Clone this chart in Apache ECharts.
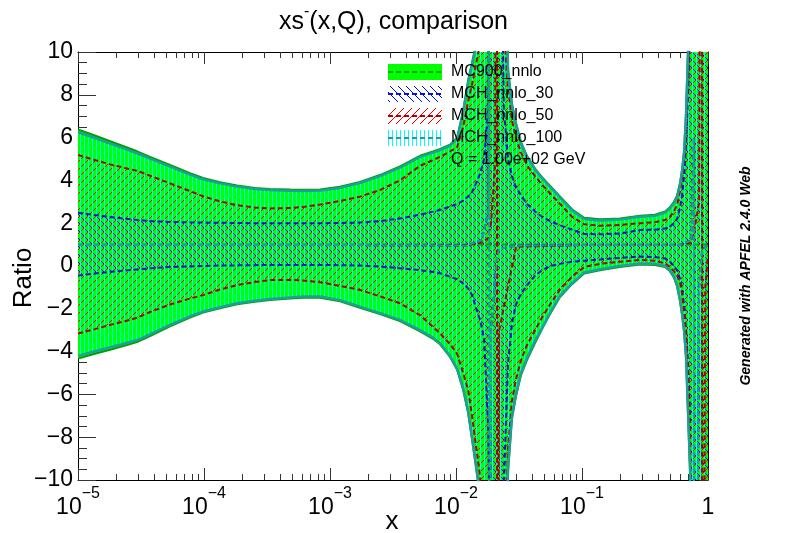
<!DOCTYPE html>
<html><head><meta charset="utf-8">
<script src="https://cdn.jsdelivr.net/npm/echarts@6/dist/echarts.min.js"></script>
<style>html,body{margin:0;padding:0;background:#fff}#c{width:787px;height:533px}</style>
</head><body><div id="c"></div>
<script>
// ---------------- data ----------------
const xGrid = [1.00e-5,1.36e-5,1.80e-5,2.36e-5,2.94e-5,3.73e-5,5.37e-5,7.74e-5,9.82e-5,1.34e-4,
  1.83e-4,2.54e-4,3.34e-4,4.82e-4,6.11e-4,8.34e-4,1.20e-3,1.73e-3,2.49e-3,3.59e-3,
  5.18e-3,6.57e-3,7.47e-3,8.96e-3,1.02e-2,1.14e-2,1.25e-2,1.34e-2,1.44e-2,1.55e-2,
  1.67e-2,1.80e-2,1.93e-2,2.08e-2,2.23e-2,2.40e-2,2.59e-2,2.78e-2,2.99e-2,3.28e-2,
  3.66e-2,4.24e-2,4.82e-2,5.57e-2,6.69e-2,8.34e-2,0.104,0.139,0.200,0.289,
  0.379,0.456,0.499,0.537,0.568,0.600,0.622,0.646,0.669,0.694,
  0.720,0.746,0.865,1.00];

// MC900_nnlo band
const mcHi = [6.38,6.10,5.83,5.57,5.36,5.10,4.72,4.34,4.11,3.91,3.76,3.65,3.60,3.57,3.56,3.58,3.70,3.93,4.25,4.65,
  5.15,5.35,5.47,5.67,6.00,7.25,8.70,9.50,10.4,14,20,20,20,20,20,20,9.2,7.6,6.7,5.8,
  5.15,4.55,4.15,3.75,3.25,2.65,2.25,2.18,2.22,2.35,2.40,2.55,2.75,3.00,3.30,3.90,4.50,5.40,7.20,10.2,
  14,20,20,20];
const mcLo = [-4.33,-4.10,-3.91,-3.72,-3.55,-3.28,-2.82,-2.41,-2.18,-1.98,-1.79,-1.67,-1.59,-1.52,-1.48,-1.48,-1.65,-1.95,-2.25,-2.57,
  -3.05,-3.40,-3.66,-4.25,-4.85,-5.80,-6.90,-8.10,-9.40,-10.8,-20,-20,-20,-20,-20,-20,-9.6,-7.15,-6.10,-5.10,
  -4.40,-3.60,-2.95,-2.25,-1.45,-0.85,-0.35,-0.20,-0.05,0.07,0.05,-0.05,-0.25,-0.55,-0.95,-1.65,-2.30,-3.10,-4.30,-6.90,
  -9.6,-20,-20,-20];
// MCH_nnlo_30 band
const c30Hi = [2.49,2.38,2.29,2.21,2.15,2.10,2.06,2.04,2.03,2.02,2.01,2.00,2.00,2.00,2.00,2.00,2.01,2.03,2.10,2.22,
  2.40,2.54,2.62,2.78,2.90,3.05,3.25,3.45,3.85,4.30,5.0,7.3,20,20,20,7.3,5.0,4.2,3.7,3.3,
  2.9,2.55,2.30,2.10,1.90,1.70,1.50,1.48,1.52,1.68,1.70,1.75,1.85,2.00,2.20,2.70,3.30,4.20,5.60,7.90,
  11,20,20,20];
const c30Lo = [-0.45,-0.35,-0.27,-0.21,-0.16,-0.11,-0.05,-0.02,0.00,0.02,0.03,0.04,0.05,0.05,0.05,0.05,0.04,0.02,-0.03,-0.10,
  -0.20,-0.28,-0.34,-0.50,-0.62,-0.82,-1.05,-1.35,-1.95,-2.5,-3.4,-7.5,-20,-20,-20,-10,-4.5,-2.7,-1.8,-1.3,
  -0.9,-0.45,-0.20,0.00,0.10,0.20,0.25,0.30,0.38,0.44,0.42,0.35,0.20,0.00,-0.20,-0.60,-1.10,-1.80,-3.00,-4.50,
  -7.0,-20,-20,-20];
// MCH_nnlo_50 band
const c50Hi = [5.19,4.95,4.75,4.58,4.45,4.22,3.86,3.50,3.26,3.02,2.84,2.73,2.69,2.71,2.76,2.87,3.04,3.24,3.55,4.00,
  4.68,4.95,5.10,5.35,5.55,6.50,7.70,8.50,9.40,10.4,16,20,20,20,20,11,8.3,6.8,6.0,5.3,
  4.7,4.2,3.8,3.4,2.9,2.3,1.95,1.88,1.92,2.00,2.05,2.15,2.30,2.55,2.85,3.50,4.10,5.00,6.50,8.80,
  12,20,20,20];
const c50Lo = [-3.15,-2.95,-2.75,-2.58,-2.42,-2.15,-1.80,-1.52,-1.36,-1.10,-0.89,-0.75,-0.66,-0.65,-0.68,-0.76,-0.93,-1.12,-1.42,-1.74,
  -2.30,-2.84,-3.15,-3.65,-4.10,-5.00,-5.80,-7.00,-8.40,-9.8,-14,-20,-20,-20,-20,-15,-8.5,-6.3,-5.3,-4.4,
  -3.7,-3.0,-2.4,-1.8,-1.1,-0.5,-0.05,0.10,0.20,0.28,0.25,0.12,-0.05,-0.25,-0.45,-0.75,-1.30,-2.20,-3.20,-5.00,
  -8.0,-20,-20,-20];
// MCH_nnlo_100 band
const c100Hi = [6.25,5.98,5.72,5.47,5.27,5.02,4.64,4.27,4.05,3.86,3.71,3.60,3.55,3.52,3.51,3.53,3.65,3.88,4.20,4.60,
  5.10,5.30,5.42,5.62,5.95,7.20,8.60,9.40,10.2,14,20,20,20,20,20,20,9.0,7.5,6.6,5.7,
  5.1,4.5,4.1,3.7,3.2,2.6,2.20,2.13,2.17,2.30,2.35,2.50,2.70,2.95,3.20,3.80,4.40,5.30,7.00,9.90,
  14,20,20,20];
const c100Lo = [-4.20,-3.98,-3.80,-3.62,-3.46,-3.20,-2.75,-2.35,-2.13,-1.93,-1.74,-1.62,-1.54,-1.47,-1.43,-1.43,-1.60,-1.90,-2.20,-2.52,
  -3.00,-3.35,-3.61,-4.20,-4.80,-5.70,-6.80,-8.00,-9.30,-10.6,-20,-20,-20,-20,-20,-20,-9.4,-7.0,-6.0,-5.0,
  -4.3,-3.5,-2.9,-2.2,-1.4,-0.8,-0.30,-0.15,0.00,0.12,0.10,0.00,-0.20,-0.50,-0.90,-1.60,-2.20,-3.00,-4.20,-6.80,
  -9.4,-20,-20,-20];

// central values (ratio to MC900 central), own x grid around the poles
const midX = [1e-5,1e-4,1e-3,5e-3,1.2e-2,1.6e-2,1.8e-2,1.826e-2,1.830e-2,1.9e-2,2.05e-2,2.113e-2,2.117e-2,2.2e-2,3e-2,
  0.1,0.3,0.6,0.74,0.772,0.776,0.85,0.894,0.898,0.95,1];
const mcMid  = [1,1,1,1,1,1,1,1,1,1,1,1,1,1,1,1,1,1,1,1,1,1,1,1,1,1];
const c30Mid = [0.98,0.98,0.98,0.97,0.95,1.2,2.5,40,-40,-3,-0.5,0.3,0.4,0.8,0.95,0.98,0.98,0.98,1.2,6,-40,-1,0.6,0.7,0.9,0.95];
const c50Mid = [0.98,0.98,0.98,0.97,0.96,1.1,1.3,1.5,1.6,2,5,40,-40,-3,0.9,0.98,0.98,0.98,1.1,1.5,1.6,3,40,-40,-1,0.5];
const c100Mid= [0.98,0.98,0.98,0.97,0.95,1.2,2.5,40,-40,-3,-0.5,0.3,0.4,0.8,0.95,0.98,0.98,0.98,1.2,6,-40,-1,0.6,0.7,0.9,0.95];

const seriesNames = ['MC900_nnlo','MCH_nnlo_30','MCH_nnlo_50','MCH_nnlo_100'];
const noteText = 'Q = 1.00e+02 GeV';
const majorX = [1e-5,1e-4,1e-3,1e-2,1e-1,1];
const minorMult = [2,3,4,5,6,7,8,9];
const yTicks = {min:-10, max:10, step:2};

// ---------------- styling ----------------
const FONT = '"Liberation Sans", Arial, Helvetica, sans-serif';
const GREEN = '#00ff00', GREEN_D = '#00a000';
const BLUE_L = '#1010c8', RED_L = '#b00000', TEAL = '#1f9e9e';

function hatch(kind, color){
  const n = kind === 'v' ? 4 : 8;
  const c = document.createElement('canvas');
  c.width = n; c.height = n;
  const g = c.getContext('2d');
  g.fillStyle = color;
  for (let i = 0; i < n; i++){
    if (kind === 'v') g.fillRect(0, i, 1, 1);
    else if (kind === '/') g.fillRect(i, n-1-i, 1, 1);
    else g.fillRect(i, i, 1, 1);
  }
  return {image: c, repeat: 'repeat'};
}
const P30 = hatch('\\', '#0000ff');
const P50 = hatch('/', '#ff0000');
const P100 = hatch('v', '#00ffff');

const minorX = [];
for (let e = -5; e < 0; e++) for (const m of minorMult) minorX.push(m*Math.pow(10,e));

// filled band: one polygon built from the band rows through the axes
function bandSeries(lo, hi, fill, z){
  return {type:'custom', coordinateSystem:'cartesian2d', clip:true, silent:true, z:z,
    data: xGrid.map((x,i)=>[x, lo[i], hi[i]]),
    encode:{x:0, y:[1,2]},
    renderItem:function(params, api){
      if (params.dataIndexInside !== 0) return null;
      const n = params.dataInsideLength;
      const pts = [];
      for (let i = 0; i < n; i++) pts.push(api.coord([api.value(0,i), api.value(2,i)]));
      for (let i = n-1; i >= 0; i--) pts.push(api.coord([api.value(0,i), api.value(1,i)]));
      return {type:'polygon', shape:{points:pts}, style:{fill:fill, stroke:null}};
    }};
}
function curve(xs, ys, color, width, dashed, z){
  return {type:'line', data:xs.map((x,i)=>[x, ys[i]]), symbol:'none', silent:true, z:z, clip:true,
    lineStyle:{color:color, width:width, type: dashed ? [5,3] : 'solid'}};
}

const series = [
  bandSeries(mcLo, mcHi, GREEN, 2),
  bandSeries(c30Lo, c30Hi, P30, 3),
  bandSeries(c50Lo, c50Hi, P50, 4),
  bandSeries(c100Lo, c100Hi, P100, 5),
  curve(xGrid, mcHi, GREEN_D, 2, false, 6), curve(xGrid, mcLo, GREEN_D, 2, false, 6),
  curve(midX, mcMid, GREEN_D, 2, true, 6),
  curve(xGrid, c30Hi, BLUE_L, 2, true, 7), curve(xGrid, c30Lo, BLUE_L, 2, true, 7),
  curve(midX, c30Mid, BLUE_L, 2, true, 7),
  curve(xGrid, c50Hi, RED_L, 2, true, 8), curve(xGrid, c50Lo, RED_L, 2, true, 8),
  curve(midX, c50Mid, RED_L, 2, true, 8),
  curve(xGrid, c100Hi, TEAL, 2.5, false, 9), curve(xGrid, c100Lo, TEAL, 2.5, false, 9),
  curve(midX, c100Mid, TEAL, 2, true, 9)
];

function xAx(pos, ticks, len, showLabel, showLine){
  return {type:'log', logBase:10, min:majorX[0], max:majorX[majorX.length-1], position:pos,
    axisLine:{show:showLine, onZero:false, lineStyle:{color:'#000', width:1}},
    axisTick:{show:true, inside:true, length:len, customValues:ticks, lineStyle:{color:'#333', width:1}},
    axisLabel:{show:showLabel, customValues:majorX, margin:6, fontFamily:FONT, color:'#000',
      formatter:function(v){
        const e = Math.round(Math.log10(v));
        return e === 0 ? '{b|1}' : '{b|10}{e|\u2212' + (-e) + '}';
      },
      rich:{b:{fontSize:23, fontFamily:FONT, color:'#000', padding:[10,0,0,0]},
            e:{fontSize:16, fontFamily:FONT, color:'#000', verticalAlign:'top'}}},
    splitLine:{show:false}, minorTick:{show:false}, minorSplitLine:{show:false}};
}
function yAx(pos, len, mlen, showLabel){
  return {type:'value', min:yTicks.min, max:yTicks.max, interval:yTicks.step, position:pos,
    axisLine:{show:true, onZero:false, lineStyle:{color:'#000', width:1}},
    axisTick:{show:true, inside:true, length:len, lineStyle:{color:'#333', width:1}},
    minorTick:{show:true, splitNumber:4, length:mlen, lineStyle:{color:'#333', width:1}},
    axisLabel:{show:showLabel, margin:5, fontSize:23, fontFamily:FONT, color:'#000',
      formatter:function(v){ return String(v).replace('-', '\u2212'); }},
    splitLine:{show:false}};
}

const legendY = [72, 94, 116, 138];
const legFill = [GREEN, P30, P50, P100];
const legLine = [GREEN_D, BLUE_L, RED_L, TEAL];
const graphic = [
  {type:'text', left:'center', top:4, style:{text:'{a|xs}{s|-}{a|(x,Q), comparison}', fontFamily:FONT,
    rich:{a:{fontSize:25, fontFamily:FONT, fill:'#000', padding:[6,0,0,0]}, s:{fontSize:16, fontFamily:FONT, fill:'#000', verticalAlign:'top'}}}},
  {type:'text', x:392, y:522, style:{text:'x', fontSize:26, fontFamily:FONT, fill:'#000', align:'center', verticalAlign:'middle'}},
  {type:'text', x:24, y:278, rotation:Math.PI/2, style:{text:'Ratio', fontSize:26, fontFamily:FONT, fill:'#000', align:'center', verticalAlign:'middle'}},
  {type:'text', x:746, y:276, rotation:Math.PI/2, style:{text:'Generated with APFEL 2.4.0 Web', fontSize:14, fontWeight:'bold', fontStyle:'italic', fontFamily:FONT, fill:'#000', align:'center', verticalAlign:'middle'}},
  {type:'text', x:451, y:160, style:{text:noteText, fontSize:16, fontFamily:FONT, fill:'#000', align:'left', verticalAlign:'middle'}, z:11}
];
seriesNames.forEach((n,i)=>{
  const cy = legendY[i];
  graphic.push({type:'rect', shape:{x:388, y:cy-8, width:54, height:16}, style:{fill:legFill[i], stroke:null}, z:10});
  graphic.push({type:'line', shape:{x1:388, y1:cy, x2:442, y2:cy}, style:{stroke:legLine[i], lineWidth:2, lineDash:[5,3]}, z:11});
  graphic.push({type:'text', x:451, y:cy, style:{text:n, fontSize:16, fontFamily:FONT, fill:'#000', align:'left', verticalAlign:'middle'}, z:11});
});

const chart = echarts.init(document.getElementById('c'), null, {renderer:'canvas'});
chart.setOption({
  animation:false,
  backgroundColor:'#fff',
  grid:{left:78, right:79, top:52, bottom:53, containLabel:false, outerBoundsMode:'none'},
  xAxis:[xAx('bottom', majorX, 12, true, true), xAx('bottom', minorX, 6, false, false),
         xAx('top', majorX, 12, false, true), xAx('top', minorX, 6, false, false)],
  yAxis:[yAx('left', 18, 9, true), yAx('right', 9, 5, false)],
  series:series,
  graphic:graphic
});
</script></body></html>
